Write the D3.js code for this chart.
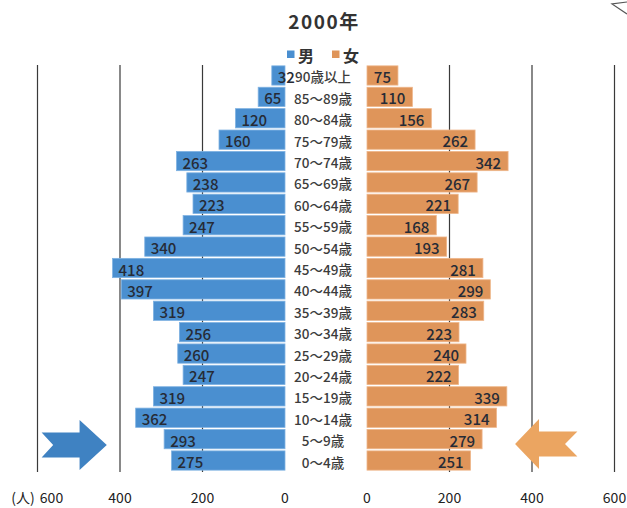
<!DOCTYPE html>
<html>
<head>
<meta charset="utf-8">
<script src="https://cdn.jsdelivr.net/npm/d3@7/dist/d3.min.js"></script>
<style>
  html, body { margin: 0; padding: 0; background: #fff; }
  svg { display: block; }
  text { font-family: "Noto Sans CJK JP", "Noto Sans", sans-serif; }
</style>
</head>
<body>
<svg id="chart" width="627" height="508"></svg>
<script>
// 年齢階級（上から高齢順）
const ageGroups = [
  "90歳以上", "85～89歳", "80～84歳", "75～79歳", "70～74歳", "65～69歳",
  "60～64歳", "55～59歳", "50～54歳", "45～49歳", "40～44歳", "35～39歳",
  "30～34歳", "25～29歳", "20～24歳", "15～19歳", "10～14歳", "5～9歳", "0～4歳"
];
// 人口（人）
const male   = [32, 65, 120, 160, 263, 238, 223, 247, 340, 418, 397, 319, 256, 260, 247, 319, 362, 293, 275];
const female = [75, 110, 156, 262, 342, 267, 221, 168, 193, 281, 299, 283, 223, 240, 222, 339, 314, 279, 251];
const tickValues = [0, 200, 400, 600];
const titleText = "2000年";
const seriesNames = ["男", "女"];
const unitText = "(人)";

const blue = "#4a8fd0", orange = "#df955a";
const blueArrow = "#3f82c2", orangeArrow = "#eba561";

const svg = d3.select("#chart");

// 左（男）と右（女）の横軸
const xL = d3.scaleLinear().domain([0, 600]).range([285, 37.5]);
const xR = d3.scaleLinear().domain([0, 600]).range([367, 614.5]);
const y = d3.scaleBand().domain(ageGroups).range([65, 471]).paddingInner(0.1).paddingOuter(0.04);
const plotTop = 65, plotBottom = 472;

// 目盛り線
const grid = svg.append("g");
[xL, xR].forEach(sc => {
  grid.selectAll(null).data(tickValues.filter(v => v > 0)).enter().append("line")
    .attr("x1", d => sc(d)).attr("x2", d => sc(d))
    .attr("y1", plotTop).attr("y2", plotBottom)
    .attr("stroke", "#3a3a3a").attr("stroke-width", 1.2);
});

// 棒
const rows = ageGroups.map((a, i) => ({ age: a, m: male[i], f: female[i] }));
svg.append("g").selectAll("rect").data(rows).enter().append("rect")
  .attr("x", d => xL(d.m)).attr("y", d => y(d.age))
  .attr("width", d => xL(0) - xL(d.m)).attr("height", y.bandwidth())
  .attr("fill", blue).attr("stroke", "#7fb2e2").attr("stroke-width", 0.8);
svg.append("g").selectAll("rect").data(rows).enter().append("rect")
  .attr("x", xR(0)).attr("y", d => y(d.age))
  .attr("width", d => xR(d.f) - xR(0)).attr("height", y.bandwidth())
  .attr("fill", orange).attr("stroke", "#eeb68a").attr("stroke-width", 0.8);

// 数値ラベル
const valStyle = s => s.attr("font-size", 15).attr("font-weight", 500)
  .attr("fill", "#262b36").attr("dominant-baseline", "central");
svg.append("g").selectAll("text").data(rows).enter().append("text")
  .attr("x", d => xL(d.m) + 6).attr("y", d => y(d.age) + y.bandwidth() / 2 + 1)
  .attr("text-anchor", "start").text(d => d.m).call(valStyle);
svg.append("g").selectAll("text").data(rows).enter().append("text")
  .attr("x", d => xR(d.f) - 7).attr("y", d => y(d.age) + y.bandwidth() / 2 + 1)
  .attr("text-anchor", "end").text(d => d.f).call(valStyle);

// 年齢ラベル
svg.append("g").selectAll("text").data(ageGroups).enter().append("text")
  .attr("x", 323).attr("y", d => y(d) + y.bandwidth() / 2 + 1)
  .attr("text-anchor", "middle").attr("dominant-baseline", "central")
  .attr("font-size", 13.5).attr("font-weight", 500).attr("fill", "#3c3c3c")
  .text(d => d);

// 下の目盛りラベル
const axisY = 497;
const tickStyle = s => s.attr("font-size", 14).attr("fill", "#222").attr("text-anchor", "middle").attr("dominant-baseline", "central");
svg.append("g").selectAll("text").data(tickValues).enter().append("text")
  .attr("x", d => d === 600 ? xL(d) + 14 : xL(d)).attr("y", axisY).text(d => d).call(tickStyle);
svg.append("g").selectAll("text").data(tickValues).enter().append("text")
  .attr("x", d => xR(d)).attr("y", axisY).text(d => d).call(tickStyle);
svg.append("text").attr("x", 23).attr("y", axisY).text(unitText).call(tickStyle);

// タイトル
svg.append("text").attr("x", 324).attr("y", 20).attr("text-anchor", "middle")
  .attr("dominant-baseline", "central").attr("font-size", 19).attr("font-weight", 700)
  .attr("letter-spacing", 1.5).attr("fill", "#333").text(titleText);

// 凡例
const legend = svg.append("g");
[[blue, seriesNames[0], 287], [orange, seriesNames[1], 332]].forEach(([c, t, x]) => {
  legend.append("rect").attr("x", x).attr("y", 50.5).attr("width", 7.5).attr("height", 7.5).attr("fill", c);
  legend.append("text").attr("x", x + 11).attr("y", 55).attr("dominant-baseline", "central")
    .attr("font-size", 16).attr("font-weight", 700).attr("fill", "#333").text(t);
});

// 矢印（外側から中央へ）
const arrowPath = (tail, notch, neck, tip, cy, hs, hh) =>
  [[tail, cy - hs], [neck, cy - hs], [neck, cy - hh], [tip, cy], [neck, cy + hh], [neck, cy + hs], [tail, cy + hs], [notch, cy]];
const line = d3.line();
svg.append("path").attr("d", line(arrowPath(xL(590), xL(562), xL(498), xL(432), 445, 12.5, 25)) + "Z")
  .attr("fill", blueArrow);
svg.append("path").attr("d", line(arrowPath(xR(510), xR(480), xR(417), xR(359), 444, 12.5, 25)) + "Z")
  .attr("fill", orangeArrow);

// 右上の線
svg.append("path").attr("d", "M627,14 L612,4 L627,2").attr("fill", "none")
  .attr("stroke", "#555").attr("stroke-width", 1.2);
</script>
</body>
</html>
